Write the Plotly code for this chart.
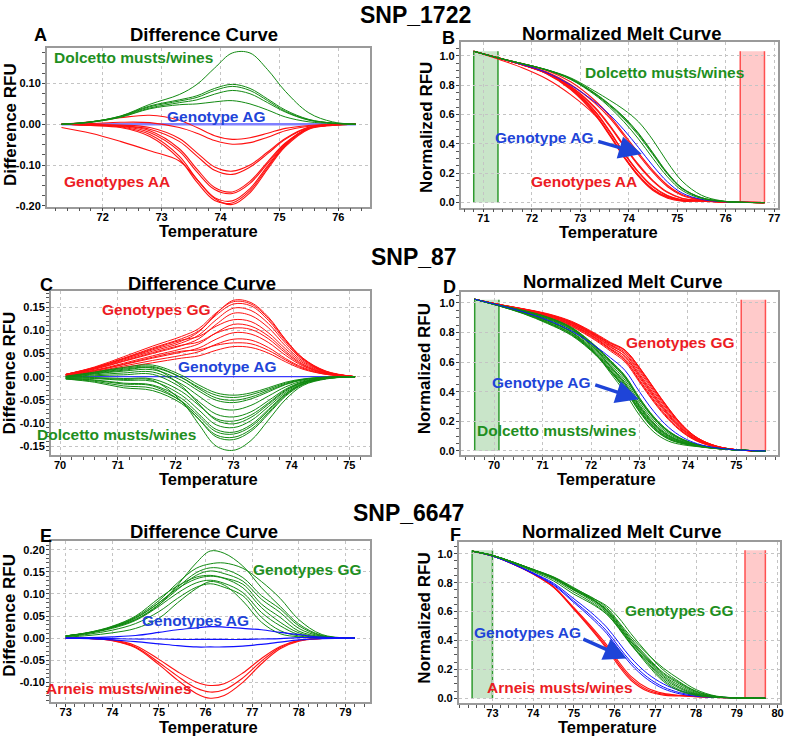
import plotly.graph_objects as go

W, H = 790, 741

# ---------------- DATA ----------------
# SNP_1722 difference curves (A)
temp_diff_1722 = [71.3, 71.8, 72.3, 72.8, 73.3, 73.6, 73.9, 74.2, 74.5, 74.8, 75.1, 75.5, 75.9, 76.3]
diff_1722_AG = [0, 0, 0, 0, 0, 0, 0, 0, 0, 0, 0, 0, 0, 0]
diff_1722_dolcetto = [
    [0, .006, .020, .049, .073, .098, .138, .175, .175, .134, .081, .028, .006, 0],
    [0, .006, .020, .045, .060, .070, .088, .098, .088, .062, .035, .012, .003, 0],
    [0, .006, .019, .043, .057, .066, .083, .093, .083, .058, .032, .011, .003, 0],
    [0, .005, .018, .040, .053, .060, .074, .083, .075, .053, .030, .010, .003, 0],
    [0, .005, .017, .038, .048, .050, .055, .058, .050, .035, .018, .006, .002, 0],
]
diff_1722_AA = [
    [0, .006, .016, .022, .010, -.008, -.028, -.037, -.033, -.022, -.010, -.003, 0, 0],
    [0, .002, .005, .004, -.008, -.022, -.040, -.049, -.045, -.032, -.016, -.005, -.001, 0],
    [0, -.001, -.002, -.008, -.035, -.070, -.105, -.115, -.100, -.068, -.035, -.007, -.002, 0],
    [0, -.001, -.003, -.012, -.042, -.078, -.113, -.123, -.105, -.072, -.037, -.008, -.002, 0],
    [0, -.002, -.004, -.016, -.060, -.110, -.155, -.166, -.140, -.092, -.046, -.009, -.002, 0],
    [0, -.002, -.005, -.020, -.066, -.117, -.160, -.170, -.145, -.096, -.048, -.010, -.002, 0],
    [0, -.002, -.006, -.025, -.078, -.135, -.180, -.188, -.158, -.102, -.050, -.010, -.002, 0],
    [0, -.003, -.008, -.030, -.085, -.142, -.187, -.193, -.163, -.106, -.052, -.011, -.002, 0],
    [-.008, -.022, -.042, -.065, -.090, -.135, -.182, -.197, -.168, -.110, -.055, -.012, -.003, 0],
]

# SNP_1722 normalized melt curves (B)
temp_melt_1722 = [70.8, 71.3, 71.8, 72.3, 72.8, 73.3, 73.6, 73.9, 74.2, 74.5, 74.8, 75.1, 75.5, 75.9, 76.3, 76.8]
melt_1722_AG = [1.03, .985, .94, .885, .80, .685, .60, .495, .375, .25, .14, .065, .022, .007, .002, 0]
melt_1722_dolcetto = [
    [1.03, .985, .946, .905, .849, .758, .698, .633, .550, .425, .274, .146, .050, .013, .002, 0],
    [1.03, .985, .946, .905, .845, .745, .670, .583, .473, .338, .202, .100, .034, .010, .002, 0],
    [1.03, .985, .946, .904, .843, .742, .666, .578, .468, .333, .198, .097, .033, .010, .002, 0],
    [1.03, .985, .945, .903, .840, .738, .660, .569, .458, .325, .193, .095, .032, .010, .002, 0],
    [1.03, .985, .945, .902, .838, .733, .650, .550, .433, .300, .175, .083, .028, .009, .002, 0],
]
melt_1722_AA = [
    [1.03, .985, .946, .901, .822, .695, .592, .467, .338, .217, .118, .055, .019, .007, .002, 0],
    [1.03, .985, .942, .890, .804, .677, .578, .455, .326, .205, .108, .049, .017, .006, .002, 0],
    [1.03, .985, .939, .883, .792, .650, .530, .390, .260, .150, .072, .030, .015, .005, .002, 0],
    [1.03, .985, .939, .882, .788, .643, .522, .382, .252, .145, .068, .028, .014, .005, .002, 0],
    [1.03, .985, .938, .881, .784, .625, .490, .340, .209, .110, .048, .019, .013, .005, .002, 0],
    [1.03, .985, .938, .880, .780, .619, .483, .335, .205, .105, .044, .017, .012, .005, .002, 0],
    [1.03, .985, .938, .879, .775, .607, .465, .315, .187, .092, .038, .015, .012, .005, .002, 0],
    [1.03, .985, .937, .877, .770, .600, .458, .308, .182, .087, .034, .013, .011, .005, .002, 0],
    [1.03, .977, .918, .843, .735, .595, .465, .313, .178, .082, .030, .010, .010, .004, .002, 0],
]
regions_1722 = [70.8, 71.3, 76.3, 76.8]

# SNP_87 difference curves (C)
temp_diff_87 = [70.1, 70.6, 71.1, 71.6, 72.1, 72.4, 72.7, 73.0, 73.3, 73.6, 73.9, 74.2, 74.6, 75.1]
diff_87_AG = [0, 0, 0, 0, 0, 0, 0, 0, 0, 0, 0, 0, 0, 0]
diff_87_GG = [
    [.005, .019, .038, .058, .077, .097, .136, .165, .160, .129, .080, .040, .012, 0],
    [.005, .021, .043, .066, .087, .104, .138, .162, .157, .126, .079, .039, .011, 0],
    [.005, .020, .040, .062, .082, .099, .133, .157, .153, .122, .076, .038, .011, 0],
    [.004, .018, .036, .055, .073, .090, .123, .148, .143, .115, .072, .036, .010, 0],
    [.004, .016, .033, .050, .067, .082, .113, .137, .132, .106, .066, .033, .010, 0],
    [.005, .019, .039, .060, .079, .087, .109, .123, .119, .095, .060, .030, .009, 0],
    [.004, .014, .029, .045, .060, .071, .095, .113, .109, .088, .055, .027, .008, 0],
    [.004, .017, .034, .052, .068, .075, .094, .105, .102, .082, .051, .025, .007, 0],
    [.003, .013, .026, .040, .053, .062, .081, .095, .092, .074, .046, .023, .007, 0],
    [.003, .011, .023, .035, .046, .054, .070, .081, .079, .063, .039, .020, .006, 0],
    [.003, .013, .027, .042, .055, .058, .068, .073, .071, .057, .036, .018, .005, 0],
    [.002, .010, .020, .030, .040, .045, .057, .065, .063, .051, .032, .016, .005, 0],
]
diff_87_dolcetto = [
    [.001, .010, .020, .025, .003, -.018, -.035, -.040, -.035, -.024, -.012, -.005, -.001, 0],
    [0, .008, .016, .020, -.002, -.023, -.040, -.045, -.039, -.027, -.014, -.006, -.001, 0],
    [0, .009, .018, .022, -.002, -.026, -.046, -.051, -.044, -.030, -.016, -.006, -.002, 0],
    [-.001, .006, .012, .015, -.008, -.031, -.051, -.056, -.048, -.033, -.017, -.007, -.002, 0],
    [-.001, .004, .008, .010, -.016, -.042, -.066, -.072, -.062, -.042, -.022, -.009, -.002, 0],
    [-.002, .002, .004, .005, -.024, -.054, -.081, -.087, -.076, -.052, -.027, -.011, -.003, 0],
    [-.003, -.002, -.004, -.005, -.032, -.062, -.091, -.096, -.083, -.057, -.029, -.012, -.003, 0],
    [0, .007, .014, .018, -.020, -.059, -.094, -.102, -.088, -.060, -.031, -.012, -.003, 0],
    [-.003, -.004, -.008, -.010, -.040, -.072, -.104, -.110, -.095, -.065, -.034, -.013, -.003, 0],
    [-.004, -.007, -.014, -.018, -.047, -.081, -.114, -.120, -.104, -.071, -.037, -.015, -.004, 0],
    [-.005, -.010, -.020, -.025, -.053, -.086, -.119, -.124, -.108, -.074, -.038, -.015, -.004, 0],
    [-.005, -.012, -.024, -.030, -.058, -.092, -.126, -.131, -.114, -.078, -.040, -.016, -.004, 0],
    [-.004, -.008, -.016, -.020, -.054, -.092, -.130, -.136, -.118, -.081, -.042, -.017, -.004, 0],
    [-.003, -.003, -.006, -.008, -.053, -.103, -.150, -.159, -.138, -.094, -.049, -.019, -.005, 0],
]

# SNP_87 normalized melt curves (D)
temp_melt_87 = [69.6, 70.1, 70.6, 71.1, 71.6, 72.1, 72.4, 72.7, 73.0, 73.3, 73.6, 73.9, 74.2, 74.6, 75.1, 75.6]
melt_87_AG = [1.025, .985, .94, .885, .81, .705, .63, .545, .40, .265, .16, .09, .048, .02, .005, 0]
melt_87_GG = [
    [1.025, .990, .959, .923, .868, .782, .727, .681, .565, .425, .289, .170, .088, .032, .005, 0],
    [1.025, .990, .961, .928, .876, .792, .734, .683, .562, .422, .286, .169, .087, .031, .005, 0],
    [1.025, .990, .960, .925, .872, .787, .729, .678, .557, .418, .282, .166, .086, .031, .005, 0],
    [1.025, .989, .958, .921, .865, .778, .720, .668, .548, .408, .275, .162, .084, .030, .005, 0],
    [1.025, .989, .956, .918, .860, .772, .712, .658, .537, .397, .266, .156, .081, .030, .005, 0],
    [1.025, .990, .959, .924, .870, .784, .717, .654, .523, .384, .255, .150, .078, .029, .005, 0],
    [1.025, .989, .954, .914, .855, .765, .701, .640, .513, .374, .248, .145, .075, .028, .005, 0],
    [1.025, .989, .957, .919, .862, .773, .705, .639, .505, .367, .242, .141, .073, .027, .005, 0],
    [1.025, .988, .953, .911, .850, .758, .692, .626, .495, .357, .234, .136, .071, .027, .005, 0],
    [1.025, .988, .951, .908, .845, .751, .684, .615, .481, .344, .223, .129, .068, .026, .005, 0],
    [1.025, .988, .953, .912, .852, .760, .688, .613, .473, .336, .217, .126, .066, .025, .005, 0],
    [1.025, .987, .950, .905, .840, .745, .675, .602, .465, .328, .211, .122, .064, .025, .005, 0],
]
melt_87_dolcetto = [
    [1.025, .986, .950, .905, .835, .708, .612, .510, .360, .230, .136, .078, .043, .019, .005, 0],
    [1.025, .985, .948, .901, .830, .703, .607, .505, .355, .226, .133, .076, .042, .019, .005, 0],
    [1.025, .985, .949, .903, .832, .703, .604, .499, .349, .221, .130, .074, .042, .018, .005, 0],
    [1.025, .984, .946, .897, .825, .697, .599, .494, .344, .217, .127, .073, .041, .018, .005, 0],
    [1.025, .984, .944, .893, .820, .689, .588, .479, .328, .203, .118, .068, .039, .018, .005, 0],
    [1.025, .983, .942, .889, .815, .681, .576, .464, .313, .189, .108, .063, .037, .017, .005, 0],
    [1.025, .982, .938, .881, .805, .673, .568, .454, .304, .182, .103, .061, .036, .017, .005, 0],
    [1.025, .985, .947, .899, .828, .685, .571, .451, .298, .177, .100, .059, .036, .017, .005, 0],
    [1.025, .982, .936, .877, .800, .665, .558, .441, .290, .170, .095, .056, .035, .017, .005, 0],
    [1.025, .981, .933, .871, .792, .658, .549, .431, .280, .161, .089, .053, .033, .016, .005, 0],
    [1.025, .980, .930, .865, .785, .652, .544, .426, .276, .157, .086, .052, .033, .016, .005, 0],
    [1.025, .980, .928, .861, .780, .647, .538, .419, .269, .151, .082, .050, .032, .016, .005, 0],
    [1.025, .981, .932, .869, .790, .651, .538, .415, .264, .147, .079, .048, .031, .016, .005, 0],
    [1.025, .982, .937, .879, .802, .652, .527, .395, .241, .127, .066, .041, .029, .015, .005, 0],
]
regions_87 = [69.6, 70.1, 75.1, 75.6]

# SNP_6647 difference curves (E)
temp_diff_6647 = [73.0, 73.5, 74.0, 74.5, 75.0, 75.4, 75.8, 76.1, 76.4, 76.8, 77.2, 77.6, 78.0, 78.5, 79.2]
diff_6647_GG = [
    [.005, .012, .024, .042, .075, .120, .170, .197, .192, .163, .114, .072, .032, .006, 0],
    [.005, .013, .026, .048, .085, .125, .158, .168, .170, .158, .128, .090, .042, .008, 0],
    [.005, .012, .025, .045, .080, .115, .148, .159, .156, .137, .096, .066, .028, .005, 0],
    [.005, .012, .024, .042, .076, .110, .142, .152, .146, .129, .088, .058, .022, .004, 0],
    [.005, .013, .027, .050, .090, .118, .138, .142, .136, .122, .077, .047, .016, .003, 0],
    [.005, .012, .025, .046, .080, .112, .134, .140, .135, .114, .069, .036, .012, .002, 0],
    [.004, .011, .022, .040, .072, .102, .125, .131, .124, .103, .058, .028, .008, .001, 0],
    [.003, .009, .018, .033, .060, .090, .115, .123, .115, .096, .047, .017, .005, .001, 0],
    [.002, .006, .012, .022, .045, .080, .112, .128, .120, .084, .036, .010, .003, 0, 0],
]
diff_6647_AG = [
    [0, .001, .003, .006, .013, .019, .023, .026, .025, .022, .019, .013, .008, .002, 0],
    [0, 0, -.001, -.002, -.002, -.003, -.003, -.003, -.003, -.003, -.002, -.001, .001, .002, 0],
    [0, -.001, -.004, -.008, -.013, -.017, -.020, -.020, -.020, -.018, -.014, -.009, -.004, -.001, 0],
]
diff_6647_arneis = [
    [0, -.001, -.004, -.017, -.048, -.076, -.099, -.107, -.103, -.079, -.046, -.019, -.005, -.001, 0],
    [0, -.001, -.005, -.020, -.055, -.086, -.113, -.122, -.117, -.090, -.052, -.021, -.006, -.001, 0],
    [0, -.001, -.006, -.022, -.060, -.095, -.125, -.136, -.130, -.100, -.058, -.024, -.007, -.001, 0],
]

# SNP_6647 normalized melt curves (F)
temp_melt_6647 = [72.5, 73.0, 73.5, 74.0, 74.5, 75.0, 75.4, 75.8, 76.1, 76.4, 76.8, 77.2, 77.6, 78.0, 78.5, 79.2, 79.7]
melt_6647_GG = [
    [1.018, .989, .942, .889, .832, .750, .700, .640, .557, .447, .313, .194, .112, .050, .013, .002, 0],
    [1.018, .989, .943, .891, .838, .760, .705, .628, .528, .425, .308, .208, .130, .060, .015, .002, 0],
    [1.018, .989, .942, .890, .835, .755, .695, .618, .519, .411, .287, .176, .106, .046, .012, .002, 0],
    [1.018, .989, .942, .889, .832, .751, .690, .612, .512, .401, .279, .168, .098, .040, .011, .002, 0],
    [1.018, .989, .943, .892, .840, .765, .698, .608, .502, .391, .272, .157, .087, .034, .010, .002, 0],
    [1.018, .989, .942, .890, .836, .755, .692, .604, .500, .390, .264, .149, .076, .030, .009, .002, 0],
    [1.018, .988, .941, .887, .830, .747, .682, .595, .491, .379, .253, .138, .068, .026, .008, .002, 0],
    [1.018, .987, .939, .883, .823, .735, .670, .585, .483, .370, .246, .127, .057, .023, .008, .002, 0],
    [1.018, .986, .936, .877, .812, .720, .660, .582, .488, .375, .234, .116, .050, .021, .007, .002, 0],
]
melt_6647_AG = [
    [1.018, .984, .931, .868, .796, .688, .599, .493, .386, .280, .172, .099, .053, .026, .009, .002, 0],
    [1.018, .984, .930, .864, .788, .672, .577, .467, .357, .252, .147, .078, .039, .019, .009, .002, 0],
    [1.018, .984, .929, .861, .782, .662, .563, .450, .340, .235, .132, .066, .031, .014, .006, .002, 0],
]
melt_6647_arneis = [
    [1.018, .984, .929, .861, .773, .627, .504, .371, .253, .152, .071, .034, .021, .013, .006, .002, 0],
    [1.018, .984, .929, .860, .770, .620, .494, .357, .238, .138, .060, .028, .019, .012, .006, .002, 0],
    [1.018, .984, .929, .859, .768, .615, .485, .345, .224, .125, .050, .022, .016, .011, .006, .002, 0],
]
regions_6647 = [72.5, 73.0, 79.2, 79.7]

# tick values
xticks_A = [72, 73, 74, 75, 76]
yticks_A = [-0.20, -0.10, 0.00, 0.10]
xticks_B = [71, 72, 73, 74, 75, 76, 77]
xticks_C = [70, 71, 72, 73, 74, 75]
yticks_C = [-0.15, -0.10, -0.05, 0.00, 0.05, 0.10, 0.15]
xticks_D = [70, 71, 72, 73, 74, 75]
xticks_E = [73, 74, 75, 76, 77, 78, 79]
yticks_E = [-0.10, -0.05, 0.00, 0.05, 0.10, 0.15, 0.20]
xticks_F = [73, 74, 75, 76, 77, 78, 79, 80]
yticks_melt = [0.0, 0.2, 0.4, 0.6, 0.8, 1.0]

# ---------------- STYLE ----------------
GREEN = '#128a12'
RED = '#ff1010'
BLUE = '#1010ff'
TXT_GREEN = '#1f8f1f'
TXT_RED = '#ec1c24'
TXT_BLUE = '#1e44d8'
FONT = 'Liberation Sans, Arial, sans-serif'

fig = go.Figure()


def axname(n):
    return ('x', 'y') if n == 1 else (f'x{n}', f'y{n}')


def add_lines(n, xs, curves, color, width):
    xa, ya = axname(n)
    for c in curves:
        fig.add_trace(go.Scatter(x=xs, y=c, mode='lines', xaxis=xa, yaxis=ya,
                                 line=dict(color=color, width=width, shape='spline', smoothing=1.0),
                                 hoverinfo='skip', showlegend=False))


def set_axes(n, box, xr, yr, xt, yt, yfmt, xminor, yminor):
    l, r, t, b = box
    xa, ya = axname(n)
    common = dict(showline=True, mirror=True, linecolor='#9a9a9a', linewidth=1.5,
                  ticks='outside', ticklen=3, tickcolor='#444', tickwidth=1,
                  showgrid=True, gridcolor='#c4c4c4', griddash='dot', gridwidth=1,
                  zeroline=False,
                  tickfont=dict(family=FONT, size=11, color='#000'))
    xkey = 'xaxis' if n == 1 else f'xaxis{n}'
    ykey = 'yaxis' if n == 1 else f'yaxis{n}'
    fig.layout[xkey] = dict(domain=[l / W, r / W], range=xr, anchor=ya,
                            tickvals=xt, ticktext=[f'<b>{v:d}</b>' for v in xt],
                            ticklabelstandoff=-4,
                            minor=dict(dtick=xminor, tick0=0, ticks='outside', ticklen=3,
                                       tickcolor='#555', showgrid=False),
                            **common)
    fig.layout[ykey] = dict(domain=[1 - b / H, 1 - t / H], range=yr, anchor=xa,
                            tickvals=yt, ticktext=[f'<b>{v:{yfmt}}</b>' for v in yt],
                            ticklabelstandoff=-1,
                            minor=dict(dtick=yminor, tick0=0, ticks='outside', ticklen=3,
                                       tickcolor='#555', showgrid=False),
                            **common)


def add_regions(n, reg, top):
    xa, ya = axname(n)
    for (x0, x1), fill, edge in [((reg[0], reg[1]), 'rgba(60,160,60,0.28)', '#2e9a2e'),
                                 ((reg[2], reg[3]), 'rgba(255,90,90,0.32)', '#ff5050')]:
        fig.add_shape(type='rect', xref=xa, yref=ya, x0=x0, x1=x1, y0=0, y1=top,
                      fillcolor=fill, line=dict(width=0), layer='below')
        for xv in (x0, x1):
            fig.add_shape(type='line', xref=xa, yref=ya, x0=xv, x1=xv, y0=0, y1=top,
                          line=dict(color=edge, width=1.5), layer='below')


def text(s, px, py, color='black', size=15.5, xanchor='left', angle=0):
    fig.add_annotation(text=f'<b>{s}</b>', x=px / W, y=1 - py / H, xref='paper', yref='paper',
                       xanchor=xanchor, yanchor='middle', showarrow=False, textangle=angle,
                       borderpad=0, font=dict(family=FONT, size=size, color=color))


def arrow(tail, tip):
    fig.add_annotation(text='', x=tip[0] / W, y=1 - tip[1] / H, xref='paper', yref='paper',
                       ax=tail[0] - tip[0], ay=tail[1] - tip[1], showarrow=True,
                       arrowhead=2, arrowsize=1.3, arrowwidth=3.5, arrowcolor=TXT_BLUE, standoff=0)


# ---------------- PANELS ----------------
# A
set_axes(1, (47, 372, 48, 208), [71.05, 76.54], [-0.202, 0.188], xticks_A, yticks_A, '.2f', 0.2, 0.025)
add_lines(1, temp_diff_1722, [diff_1722_AG], '#8080ff', 2.5)
add_lines(1, temp_diff_1722, diff_1722_AA, RED, 1.1)
add_lines(1, temp_diff_1722, diff_1722_dolcetto, GREEN, 1.0)

# B
set_axes(2, (463, 782, 42, 209), [70.53, 77.08], [-0.034, 1.095], xticks_B, yticks_melt, '.1f', 0.2, 0.05)
add_regions(2, regions_1722, 1.03)
add_lines(2, temp_melt_1722, melt_1722_AA, RED, 1.1)
add_lines(2, temp_melt_1722, [melt_1722_AG], BLUE, 1.0)
add_lines(2, temp_melt_1722, melt_1722_dolcetto, GREEN, 1.0)

# C
set_axes(3, (51, 372, 293, 458), [69.84, 75.36], [-0.169, 0.185], xticks_C, yticks_C, '.2f', 0.2, 0.01)
add_lines(3, temp_diff_87, [diff_87_AG], '#3a3aff', 1.3)
add_lines(3, temp_diff_87, diff_87_GG, RED, 1.0)
add_lines(3, temp_diff_87, diff_87_dolcetto, GREEN, 1.0)

# D
set_axes(4, (463, 782, 294, 458), [69.31, 75.86], [-0.027, 1.074], xticks_D, yticks_melt, '.1f', 0.2, 0.05)
add_regions(4, regions_87, 1.022)
add_lines(4, temp_melt_87, melt_87_GG, RED, 1.0)
add_lines(4, temp_melt_87, melt_87_dolcetto, GREEN, 1.0)
add_lines(4, temp_melt_87, [melt_87_AG], BLUE, 1.0)

# E
set_axes(5, (51, 372, 545, 707), [72.68, 79.53], [-0.145, 0.219], xticks_E, yticks_E, '.2f', 0.2, 0.01)
add_lines(5, temp_diff_6647, diff_6647_arneis, RED, 1.1)
add_lines(5, temp_diff_6647, diff_6647_GG, GREEN, 1.0)
add_lines(5, temp_diff_6647, diff_6647_AG, BLUE, 1.2)

# F
set_axes(6, (461, 784, 546, 708), [72.17, 80.06], [-0.034, 1.079], xticks_F, yticks_melt, '.1f', 0.2, 0.05)
add_regions(6, regions_6647, 1.025)
add_lines(6, temp_melt_6647, melt_6647_arneis, RED, 1.1)
add_lines(6, temp_melt_6647, melt_6647_AG, BLUE, 1.0)
add_lines(6, temp_melt_6647, melt_6647_GG, GREEN, 1.0)

# ---------------- TEXT ----------------
text('SNP_1722', 418, 15, size=23, xanchor='center')
text('SNP_87', 416, 259, size=23, xanchor='center')
text('SNP_6647', 411, 516, size=23, xanchor='center')

for s, x, y in [('Difference Curve', 205, 35), ('Normalized Melt Curve', 625, 34),
                ('Difference Curve', 203, 285), ('Normalized Melt Curve', 626, 283),
                ('Difference Curve', 205, 535), ('Normalized Melt Curve', 625, 535)]:
    text(s, x, y, size=18.5, xanchor='center')

for s, x, y in [('A', 41, 35), ('B', 451, 38), ('C', 47, 287), ('D', 452, 289), ('E', 46, 540), ('F', 458, 539)]:
    text(s, x, y, size=18, xanchor='center')

for s, x, y in [('Difference RFU', 10, 125), ('Normalized RFU', 428, 128),
                ('Difference RFU', 10, 375), ('Normalized RFU', 427, 371),
                ('Difference RFU', 10, 619), ('Normalized RFU', 427, 622)]:
    text(s, x, y, size=17, xanchor='center', angle=-90)

for x, y in [(210, 233), (612, 234), (210, 482.5), (610, 482.5), (210, 731.5), (611, 731.5)]:
    text('Temperature', x, y, size=16.5, xanchor='center')

# group labels
text('Dolcetto musts/wines', 53, 58, TXT_GREEN)
text('Genotype AG', 167, 117, TXT_BLUE)
text('Genotypes AA', 63, 183, TXT_RED)

text('Dolcetto musts/wines', 587, 73, TXT_GREEN)
text('Genotype AG', 497, 138, TXT_BLUE)
text('Genotypes AA', 533, 183, TXT_RED)
arrow((600, 142), (645, 155))

text('Genotypes GG', 102, 312, TXT_RED)
text('Genotype AG', 178, 369, TXT_BLUE)
text('Dolcetto musts/wines', 36, 437, TXT_GREEN)

text('Genotypes GG', 628, 345, TXT_RED)
text('Genotype AG', 493, 385, TXT_BLUE)
text('Dolcetto musts/wines', 478, 433, TXT_GREEN)
arrow((597, 387), (642, 402))

text('Genotypes GG', 253, 573, TXT_GREEN)
text('Genotypes AG', 142, 625, TXT_BLUE)
text('Arneis musts/wines', 45, 693, TXT_RED)

text('Genotypes GG', 627, 615, TXT_GREEN)
text('Genotypes AG', 475, 637, TXT_BLUE)
text('Arneis musts/wines', 488, 692, TXT_RED)
arrow((585, 643), (630, 663))

fig.update_layout(width=W, height=H, margin=dict(l=0, r=0, t=0, b=0),
                  paper_bgcolor='white', plot_bgcolor='white', showlegend=False)

fig.write_html('out.html')
